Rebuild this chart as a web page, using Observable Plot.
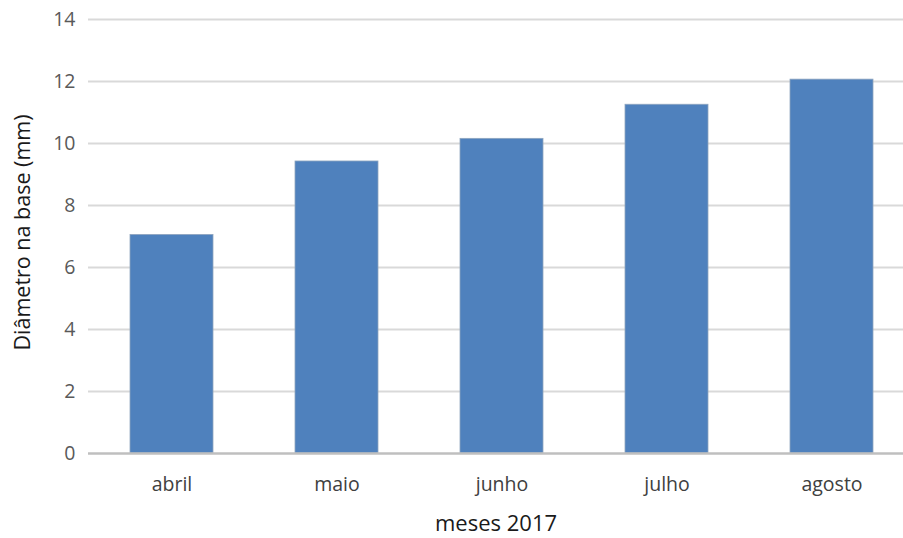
<!DOCTYPE html>
<html>
<head>
<meta charset="utf-8">
<script src="https://cdn.jsdelivr.net/npm/d3@7"></script>
<script src="https://cdn.jsdelivr.net/npm/@observablehq/plot@0.6"></script>
<style>
  html, body { margin: 0; padding: 0; background: #fff; overflow: hidden; }
  #chart svg { overflow: hidden; }
</style>
</head>
<body>
<div id="chart"></div>
<script>
const months = ["abril", "maio", "junho", "julho", "agosto"];
const diameters = [7.05, 9.42, 10.15, 11.25, 12.06];
const yTicks = [0, 2, 4, 6, 8, 10, 12, 14];

const data = months.map((m, i) => ({month: m, value: diameters[i]}));

const chart = Plot.plot({
  width: 903,
  height: 538,
  marginLeft: 88,
  marginRight: 0,
  marginTop: 19,
  marginBottom: 85,
  style: {fontFamily: "'Open Sans', sans-serif", background: "#fff"},
  x: {domain: months, range: [88.5, 913.5], paddingInner: 0.5, paddingOuter: 0.25, label: null},
  y: {domain: [0, 14], range: [453, 19], label: null},
  marks: [
    Plot.ruleY(yTicks.filter(t => t > 0), {stroke: "#d9d9d9", strokeWidth: 2}),
    Plot.barY(data, {x: "month", y: "value", fill: "#4f81bd", stroke: "#8fa5bf", strokeWidth: 0.8}),
    Plot.ruleY([0], {stroke: "#bfbfbf", strokeWidth: 2.5}),
    Plot.axisY({ticks: yTicks, tickSize: 0, tickPadding: 0, dx: -13, fontSize: 19.5, fill: "#595959", label: null, anchor: "left"}),
    Plot.axisX({tickSize: 0, tickPadding: 24, fontSize: 19.5, fill: "#404040", label: null}),
    Plot.text(["meses 2017"], {frameAnchor: "bottom", dy: 77, fontSize: 22, fill: "#1a1a1a"}),
    Plot.text(["Diâmetro na base (mm)"], {frameAnchor: "left", textAnchor: "middle", dx: -65, dy: -4, rotate: -90, fontSize: 21.5, fill: "#1a1a1a"})
  ]
});
document.getElementById("chart").appendChild(chart);
</script>
</body>
</html>
